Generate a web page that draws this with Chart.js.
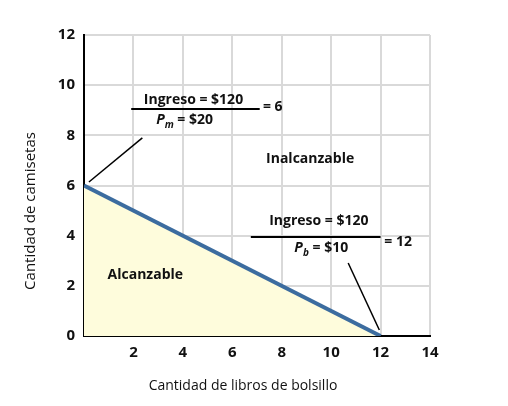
<!DOCTYPE html>
<html>
<head>
<meta charset="utf-8">
<script src="https://cdn.jsdelivr.net/npm/chart.js@4/dist/chart.umd.min.js"></script>
<style>
  html, body { margin: 0; padding: 0; background: #fff; }
  #wrap { width: 508px; height: 406px; }
</style>
</head>
<body>
<div id="wrap"><canvas id="budgetChart" width="508" height="406"></canvas></div>
<script>
// Budget line: books (x) vs t-shirts (y)
const budgetX = [0, 12];
const budgetY = [6, 0];
const xTicks = [0, 2, 4, 6, 8, 10, 12, 14];
const yTicks = [0, 2, 4, 6, 8, 10, 12];

// Annotation anchors, in data units
const labelTexts = ["Inalcanzable", "Alcanzable"];
const labelX = [9.15, 2.48];
const labelY = [7.06, 2.43];

const xTitle = "Cantidad de libros de bolsillo";
const yTitle = "Cantidad de camisetas";

const FONT = "'Open Sans', 'Noto Sans', sans-serif";

// Draws the texts, fraction bars, leader lines and axis titles
const annotations = {
    id: "annotations",
    afterDatasetsDraw(chart) {
        const ctx = chart.ctx;
        const sx = chart.scales.x, sy = chart.scales.y;
        const px = v => sx.getPixelForValue(v);
        const py = v => sy.getPixelForValue(v);

        const boldText = (txt, x, y, align) => {
            ctx.font = "bold 14px " + FONT;
            ctx.textAlign = align || "center";
            ctx.textBaseline = "middle";
            ctx.fillStyle = "#111";
            ctx.fillText(txt, px(x), py(y));
        };

        const line = (x1, y1, x2, y2, w) => {
            ctx.beginPath();
            ctx.moveTo(px(x1), py(y1));
            ctx.lineTo(px(x2), py(y2));
            ctx.lineWidth = w;
            ctx.strokeStyle = "#000";
            ctx.stroke();
        };

        // price label "P_sub = $NN", centred at (x, y)
        const priceText = (sub, rest, x, y) => {
            ctx.textBaseline = "middle";
            ctx.fillStyle = "#111";
            ctx.font = "italic bold 14px " + FONT;
            const wP = ctx.measureText("P").width;
            ctx.font = "italic bold 10px " + FONT;
            const wS = ctx.measureText(sub).width;
            ctx.font = "bold 14px " + FONT;
            const wR = ctx.measureText(rest).width;
            let cx = px(x) - (wP + wS + wR) / 2;
            const cy = py(y);
            ctx.textAlign = "left";
            ctx.font = "italic bold 14px " + FONT;
            ctx.fillText("P", cx, cy);
            cx += wP;
            ctx.font = "italic bold 10px " + FONT;
            ctx.fillText(sub, cx, cy + 5);
            cx += wS;
            ctx.font = "bold 14px " + FONT;
            ctx.fillText(rest, cx, cy);
        };

        ctx.save();
        // shirts fraction
        boldText("Ingreso = $120", 4.43, 9.41);
        line(1.91, 9.05, 7.11, 9.05, 2);
        priceText("m", " = $20", 4.07, 8.61);
        boldText("= 6", 7.24, 9.13, "left");
        line(0.2, 6.14, 2.36, 7.9, 1.5);

        // books fraction
        boldText("Ingreso = $120", 9.5, 4.59);
        line(6.75, 3.95, 12.0, 3.95, 2);
        priceText("b", " = $10", 9.6, 3.51);
        boldText("= 12", 12.15, 3.75, "left");
        line(10.69, 2.91, 11.95, 0.24, 1.5);

        labelTexts.forEach((t, i) => boldText(t, labelX[i], labelY[i]));

        // axis titles
        ctx.fillStyle = "#111";
        ctx.textAlign = "center";
        ctx.textBaseline = "middle";
        ctx.font = "14px " + FONT;
        ctx.fillText(xTitle, 243, 386);
        ctx.translate(31, 211);
        ctx.rotate(-Math.PI / 2);
        ctx.font = "15px " + FONT;
        ctx.fillText(yTitle, 0, 0);
        ctx.restore();
    }
};

const ctx = document.getElementById("budgetChart").getContext("2d");
new Chart(ctx, {
    type: "line",
    data: {
        datasets: [{
            data: budgetX.map((x, i) => ({ x: x, y: budgetY[i] })),
            borderColor: "#3c6c9f",
            backgroundColor: "#fefcdc",
            borderWidth: 4,
            fill: "origin",
            tension: 0,
            pointRadius: 0
        }]
    },
    options: {
        responsive: false,
        animation: false,
        layout: { padding: { left: 0, right: 78, top: 35, bottom: 0 } },
        plugins: { legend: { display: false }, tooltip: { enabled: false } },
        scales: {
            x: {
                type: "linear",
                min: 0,
                max: 14,
                afterFit: scale => { scale.height = 70; },
                afterBuildTicks: scale => { scale.ticks = xTicks.map(v => ({ value: v })); },
                grid: { color: "#d9d9d9", lineWidth: 2, drawTicks: false },
                border: { color: "#000", width: 2 },
                ticks: {
                    padding: 8,
                    color: "#111",
                    font: { family: FONT, size: 15, weight: "bold" },
                    callback: v => (v === 0 ? "" : v)
                }
            },
            y: {
                type: "linear",
                min: 0,
                max: 12,
                afterFit: scale => { scale.width = 84; },
                afterBuildTicks: scale => { scale.ticks = yTicks.map(v => ({ value: v })); },
                grid: { color: "#d9d9d9", lineWidth: 2, drawTicks: false },
                border: { color: "#000", width: 2 },
                ticks: {
                    padding: 9,
                    color: "#111",
                    font: { family: FONT, size: 15, weight: "bold" }
                }
            }
        }
    },
    plugins: [annotations]
});
</script>
</body>
</html>
